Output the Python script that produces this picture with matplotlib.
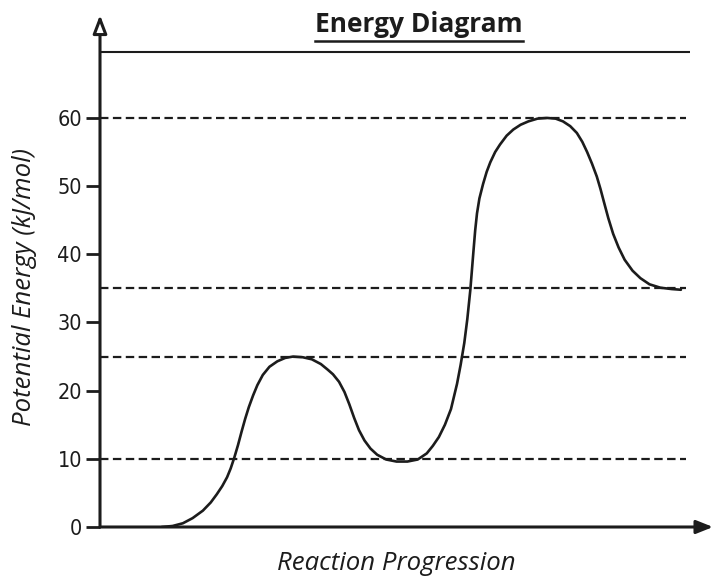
import matplotlib
matplotlib.use("Agg")
import matplotlib.pyplot as plt
from matplotlib.lines import Line2D

# ---- data ----
title = "Energy Diagram"
x_label = "Reaction Progression"
y_label = "Potential Energy (kJ/mol)"
y_ticks = [0, 10, 20, 30, 40, 50, 60]
dashed_levels = [60, 35, 25, 10]
solid_level = 69.6

# curve (x = reaction progression, y = kJ/mol)
curve_x = [10.2, 12.0, 13.7, 15.3, 17.0, 18.3, 19.3, 20.2, 21.0, 21.6, 22.2, 22.8,
           23.4, 24.0, 24.6, 25.3, 26.0, 26.9, 28.0, 29.3, 30.6, 31.9, 33.5, 35.0,
           36.5, 37.6, 38.5, 39.5, 40.4, 41.2, 42.0, 42.8, 43.7, 44.7, 45.8, 47.3,
           49.0, 50.8, 52.5, 54.0, 55.0, 56.0, 57.0, 58.0, 59.0, 59.6, 60.2, 60.7,
           61.2, 61.7, 62.0, 62.3, 62.7, 63.3, 63.9, 64.5, 65.3, 66.1, 67.2, 68.3,
           69.5, 70.8, 72.3, 73.9, 75.3, 76.5, 77.7, 78.8, 79.7, 80.5, 81.3, 82.1,
           82.7, 83.3, 84.0, 84.8, 85.7, 86.7, 88.0, 89.3, 90.8, 92.6, 94.5, 96.0]
curve_y = [0.0, 0.15, 0.55, 1.3, 2.4, 3.6, 4.8, 6.0, 7.3, 8.6, 10.2, 12.0,
           14.0, 15.9, 17.6, 19.3, 20.8, 22.3, 23.5, 24.3, 24.8, 25.0, 24.9, 24.6,
           23.9, 23.1, 22.4, 21.3, 19.8, 18.0, 16.0, 14.2, 12.7, 11.5, 10.6, 9.9,
           9.6, 9.6, 9.9, 10.8, 11.9, 13.2, 15.0, 17.3, 21.0, 23.8, 27.0, 30.5,
           34.8, 40.3, 43.5, 46.0, 48.2, 50.3, 52.1, 53.5, 55.0, 56.1, 57.4, 58.3,
           59.0, 59.5, 59.9, 60.0, 59.9, 59.5, 58.8, 57.8, 56.5, 55.0, 53.3, 51.4,
           49.6, 47.6, 45.3, 43.0, 41.0, 39.2, 37.6, 36.5, 35.6, 35.1, 34.9, 34.8]

ink = "#1c1c1c"

fig = plt.figure(figsize=(7.17, 5.78), dpi=100)
ax = fig.add_axes([100 / 717, 51 / 578, 613 / 717, 512 / 578])
ax.set_xlim(0, 101.3)
ax.set_ylim(0, 75.1)
for s in ax.spines.values():
    s.set_visible(False)
ax.patch.set_alpha(0)

# horizontal reference lines
ax.plot([0, 97.5], [solid_level, solid_level], color=ink, lw=1.5,
        solid_capstyle="butt")
for lv in dashed_levels:
    ax.plot([0, 96.8], [lv, lv], color=ink, lw=1.6, dashes=(3.8, 2.0))

# energy curve
ax.plot(curve_x, curve_y, color=ink, lw=1.9, solid_joinstyle="round",
        solid_capstyle="round")

# axes with arrows
ax.annotate("", xy=(0, 1), xytext=(0, 0), xycoords="axes fraction",
            arrowprops=dict(arrowstyle="-|>,head_length=1.1,head_width=0.42",
                            lw=2.2, fc="white", ec=ink, shrinkA=0, shrinkB=0),
            annotation_clip=False)
ax.annotate("", xy=(1, 0), xytext=(0, 0), xycoords="axes fraction",
            arrowprops=dict(arrowstyle="-|>,head_length=1.0,head_width=0.4",
                            lw=2.2, fc=ink, ec=ink, shrinkA=0, shrinkB=0),
            annotation_clip=False)

ax.set_xticks([])
ax.set_yticks(y_ticks)
ax.set_yticklabels([str(t) for t in y_ticks], fontfamily="DejaVu Sans",
                   fontstretch="condensed", fontsize=15.5, color=ink)
ax.tick_params(axis="y", length=10, width=2, color=ink, pad=3)

fig.text(396 / 717, 1 - 563 / 578, x_label, ha="center", va="center",
         fontfamily="Open Sans", fontstyle="italic", fontsize=18.5, color=ink)
fig.text(25 / 717, 1 - 287 / 578, y_label, ha="center", va="center",
         rotation=90, fontfamily="Open Sans", fontstyle="italic",
         fontsize=18.5, color=ink)

t = fig.text(419 / 717, 1 - 24 / 578, title, ha="center", va="center",
             fontfamily="Open Sans", fontweight="bold", fontsize=19, color=ink)
fig.canvas.draw()
bb = t.get_window_extent(fig.canvas.get_renderer()).transformed(fig.transFigure.inverted())
fig.add_artist(Line2D([bb.x0, bb.x1], [1 - 40.5 / 578, 1 - 40.5 / 578],
                      transform=fig.transFigure, color=ink, lw=1.8))

fig.savefig("out.png", dpi=100, facecolor="white")
